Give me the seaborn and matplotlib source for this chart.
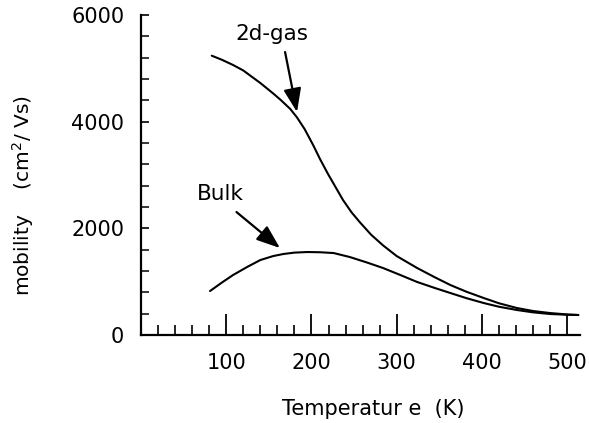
import numpy as np
import pandas as pd
import matplotlib
matplotlib.use("Agg")
import matplotlib.pyplot as plt
import seaborn as sns
from matplotlib.ticker import MultipleLocator

# ---- data ----
t_2d = [83, 95, 108, 120, 140, 155, 164, 175, 183, 192, 202, 210, 219, 228, 237, 247,
        257, 270, 284, 300, 324, 345, 363, 382, 402, 420, 441, 460, 480, 500, 513]
mob_2d = [5237, 5160, 5063, 4960, 4725, 4530, 4406, 4240, 4080, 3860, 3560, 3300, 3030,
          2780, 2531, 2300, 2110, 1880, 1680, 1480, 1256, 1080, 937, 810, 694, 595, 506,
          450, 412, 385, 375]

t_bulk = [81, 95, 108, 125, 140, 155, 167, 180, 195, 210, 226, 245, 265, 284, 305, 324,
          345, 363, 382, 402, 420, 441, 460, 480, 500, 513]
mob_bulk = [825, 985, 1125, 1280, 1406, 1480, 1519, 1545, 1556, 1552, 1537, 1462, 1360,
            1256, 1120, 994, 880, 787, 690, 600, 530, 469, 425, 394, 380, 375]

x_ticks = [100, 200, 300, 400, 500]
y_ticks = [0, 2000, 4000, 6000]
series_names = ["2d-gas", "Bulk"]

df = pd.concat([
    pd.DataFrame({"T": t_2d, "mobility": mob_2d, "series": series_names[0]}),
    pd.DataFrame({"T": t_bulk, "mobility": mob_bulk, "series": series_names[1]}),
])

sns.set_style("ticks")
plt.rcParams["font.family"] = ["DejaVu Sans"]
plt.rcParams["text.color"] = "black"
plt.rcParams["axes.labelcolor"] = "black"
plt.rcParams["xtick.color"] = "black"
plt.rcParams["ytick.color"] = "black"

fig = plt.figure(figsize=(5.89, 4.23), dpi=100)
ax = fig.add_axes([0.2394, 0.208, 0.7453, 0.7565])

sns.lineplot(data=df, x="T", y="mobility", hue="series", units="series", estimator=None,
             palette={"2d-gas": "black", "Bulk": "black"}, linewidth=1.5,
             legend=False, ax=ax, sort=False)

ax.set_xlim(0, 515)
ax.set_ylim(0, 6000)
ax.set_xticks(x_ticks)
ax.set_yticks(y_ticks)
ax.xaxis.set_minor_locator(MultipleLocator(20))
ax.yaxis.set_minor_locator(MultipleLocator(400))

for s in ["top", "right"]:
    ax.spines[s].set_visible(False)
for s in ["left", "bottom"]:
    ax.spines[s].set_linewidth(1.6)
    ax.spines[s].set_color("black")

ax.tick_params(axis="x", which="both", bottom=True, top=False)
ax.tick_params(axis="y", which="both", left=True, right=False)
ax.tick_params(axis="x", which="major", direction="in", length=15, width=1.3,
               labelsize=15, pad=13, colors="black")
ax.tick_params(axis="x", which="minor", direction="in", length=7.5, width=1.2)
ax.tick_params(axis="y", which="major", direction="in", length=6, width=1.2,
               labelsize=15, pad=12, colors="black")
ax.tick_params(axis="y", which="minor", direction="in", length=5.5, width=1.1)

ax.set_xlabel("Temperatur e  (K)", fontsize=15)
ax.set_ylabel("mobility    (cm$^2$/ Vs)", fontsize=14.5)
ax.xaxis.set_label_coords(0.53, -0.2)
ax.yaxis.set_label_coords(-0.239, 0.434)

arrow = dict(arrowstyle="-|>,head_length=0.8,head_width=0.3", mutation_scale=18,
             lw=1.6, color="black", shrinkA=0, shrinkB=0)
ax.annotate("", xy=(183, 4181), xytext=(169, 5306), arrowprops=arrow)
ax.text(154, 5644, series_names[0], fontsize=15.5, ha="center", va="center")
ax.annotate("", xy=(163, 1631), xytext=(112, 2306), arrowprops=arrow)
ax.text(93, 2644, series_names[1], fontsize=15.5, ha="center", va="center")

fig.savefig("out.png", dpi=100)
